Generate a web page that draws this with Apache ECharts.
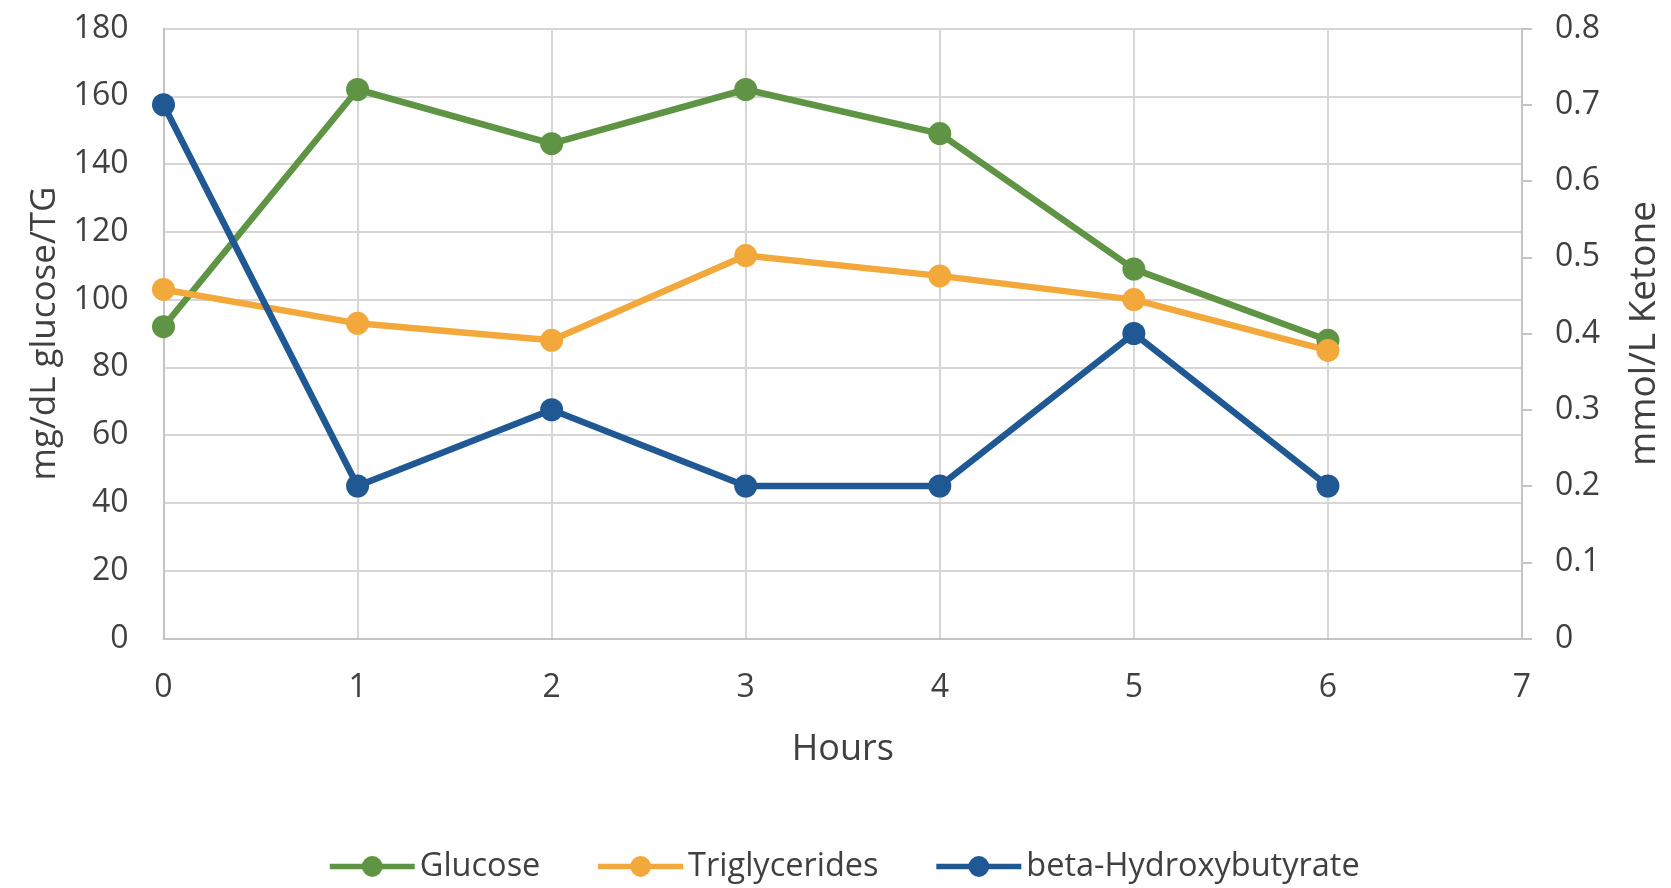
<!DOCTYPE html>
<html>
<head>
<meta charset="utf-8">
<script src="https://cdn.jsdelivr.net/npm/echarts@6/dist/echarts.min.js"></script>
<style>
  html, body { margin: 0; padding: 0; background: #ffffff; }
  #chart { width: 1671px; height: 888px; }
</style>
</head>
<body>
<div id="chart"></div>
<script>
// Hours after the meal
const hours = [0, 1, 2, 3, 4, 5, 6];
// mg/dL
const glucose = [92, 162, 146, 162, 149, 109, 88];
const triglycerides = [103, 93, 88, 113, 107, 100, 85];
// mmol/L
const betaHydroxybutyrate = [0.7, 0.2, 0.3, 0.2, 0.2, 0.4, 0.2];

const seriesNames = ['Glucose', 'Triglycerides', 'beta-Hydroxybutyrate'];
const colors = ['#5f9444', '#f2a83b', '#1f5893'];

const textColor = '#404040';
const fontFamily = '"Open Sans", "Noto Sans", sans-serif';
const gridColor = '#d6d6d6';

function pairs(values) {
  return hours.map((h, i) => [h, values[i]]);
}

function lineSeries(name, values, color, yAxisIndex) {
  return {
    name: name,
    type: 'line',
    yAxisIndex: yAxisIndex,
    data: pairs(values),
    symbol: 'circle',
    symbolSize: 23,
    showSymbol: true,
    lineStyle: { color: color, width: 6.5 },
    itemStyle: { color: color },
    emphasis: { disabled: true },
    animation: false
  };
}

const chart = echarts.init(document.getElementById('chart'), null, { renderer: 'canvas' });

chart.setOption({
  backgroundColor: '#ffffff',
  textStyle: { fontFamily: fontFamily, color: textColor },
  grid: { left: 163.5, right: 144.5, top: 28.5, bottom: 249.5 },
  legend: {
    data: seriesNames,
    left: 322,
    top: 845,
    itemWidth: 85,
    itemHeight: 26,
    itemGap: 55,
    lineStyle: { width: 5.5 },
    textStyle: { fontFamily: fontFamily, fontSize: 32.5, color: textColor }
  },
  xAxis: {
    type: 'value',
    min: 0,
    max: 7,
    interval: 1,
    name: 'Hours',
    nameLocation: 'middle',
    nameGap: 93,
    nameTextStyle: { fontFamily: fontFamily, fontSize: 36, color: textColor },
    axisLine: { show: true, onZero: false, lineStyle: { color: '#c4c4c4', width: 2 } },
    axisTick: { show: false },
    axisLabel: { margin: 33, fontSize: 32, color: textColor, fontFamily: fontFamily },
    splitLine: { show: true, lineStyle: { color: gridColor, width: 2 } }
  },
  yAxis: [
    {
      type: 'value',
      min: 0,
      max: 180,
      interval: 20,
      name: 'mg/dL glucose/TG',
      nameLocation: 'middle',
      nameGap: 101,
      nameTextStyle: { fontFamily: fontFamily, fontSize: 35, color: textColor },
      axisLine: { show: true, lineStyle: { color: '#c4c4c4', width: 2 } },
      axisTick: { show: false },
      axisLabel: { margin: 35, fontSize: 32, color: textColor, fontFamily: fontFamily },
      splitLine: { show: true, lineStyle: { color: gridColor, width: 2 } }
    },
    {
      type: 'value',
      min: 0,
      max: 0.8,
      interval: 0.1,
      position: 'right',
      name: 'mmol/L Ketone',
      nameLocation: 'middle',
      nameGap: 104,
      nameTextStyle: { fontFamily: fontFamily, fontSize: 37, color: textColor },
      axisLine: { show: true, lineStyle: { color: '#c4c4c4', width: 2 } },
      axisTick: { show: true, inside: false, length: 10, lineStyle: { color: '#c4c4c4', width: 2 } },
      axisLabel: {
        margin: 33, fontSize: 32, color: textColor, fontFamily: fontFamily,
        formatter: v => (Math.round(v * 10) / 10).toString()
      },
      splitLine: { show: false }
    }
  ],
  series: [
    lineSeries(seriesNames[0], glucose, colors[0], 0),
    lineSeries(seriesNames[1], triglycerides, colors[1], 0),
    lineSeries(seriesNames[2], betaHydroxybutyrate, colors[2], 1)
  ]
});
</script>
</body>
</html>
